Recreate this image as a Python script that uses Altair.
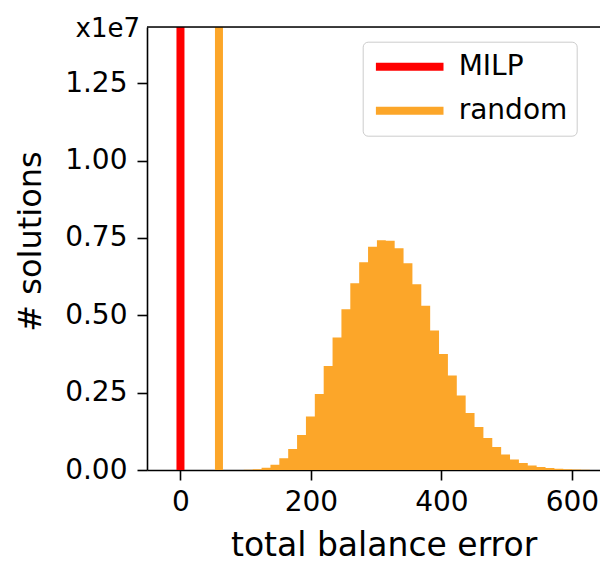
import altair as alt
import pandas as pd

# Histogram of total balance error over random solutions (bin edges and counts)
bin_edges = [83.5, 97.1, 110.7, 124.3, 137.9, 151.5, 165.1, 178.7, 192.3, 205.9,
             219.5, 233.1, 246.7, 260.3, 273.9, 287.5, 301.1, 314.7, 328.3, 341.9,
             355.5, 369.1, 382.7, 396.3, 409.9, 423.5, 437.1, 450.7, 464.3, 477.9,
             491.5, 505.1, 518.7, 532.3, 545.9, 559.5, 573.1, 586.7, 600.3, 613.9,
             627.5, 641.1]
counts = [3000, 6500, 26000, 74000, 171000, 378000, 678000, 1130000, 1728000, 2455000,
          3359000, 4280000, 5200000, 6040000, 6718000, 7219000, 7429000, 7413000, 7171000, 6686000,
          6008000, 5313000, 4506000, 3747000, 3052000, 2406000, 1841000, 1389000, 1034000, 743000,
          501000, 339000, 226000, 145000, 97000, 65000, 39000, 23000, 13000, 6500,
          3000]

# Reference solutions drawn as vertical lines
line_names = ["MILP", "random"]
line_positions = [0, 59]

x_ticks = [0, 200, 400, 600]
y_ticks = [0, 2.5e6, 5.0e6, 7.5e6, 1.0e7, 1.25e7]
x_domain = [-51.3, 643]
y_max = 1.432e7

RED = "#ff0000"
ORANGE = "#fca629"
FONT = "DejaVu Sans"

# Step outline of the histogram: each bin's left edge carries its count,
# the closing right edge drops back to zero.
hist = pd.DataFrame({
    "edge": bin_edges,
    "count": counts + [0],
})
lines = pd.DataFrame({"series": line_names, "position": line_positions})

x_scale = alt.Scale(domain=x_domain, nice=False, zero=False)
y_scale = alt.Scale(domain=[0, y_max], nice=False)

x_axis = alt.Axis(
    values=x_ticks, format="d", title="total balance error",
    labelFontSize=28, labelFont=FONT, labelColor="black", labelPadding=8,
    labelFlush=False, labelOverlap=False,
    tickSize=10, tickWidth=1.6, tickColor="black",
    domainWidth=1.6, domainColor="black", grid=False,
    titleFontSize=33, titleFont=FONT, titleFontWeight="normal", titleColor="black",
    titleX=236.6, titleY=85, titleAlign="center", titleBaseline="alphabetic",
)
y_axis = alt.Axis(
    values=y_ticks, labelExpr="format(datum.value / 1e7, '.2f')", title="# solutions",
    labelFontSize=28, labelFont=FONT, labelColor="black", labelPadding=10,
    labelFlush=False, labelOverlap=False,
    tickSize=10, tickWidth=1.6, tickColor="black",
    domainWidth=1.6, domainColor="black", grid=False,
    titleFontSize=32, titleFont=FONT, titleFontWeight="normal", titleColor="black",
    titleX=-117, titleY=214, titleAngle=270, titleAlign="center", titleBaseline="middle",
)

bars = alt.Chart(hist).mark_area(
    color=ORANGE, fillOpacity=1, interpolate="step-after"
).encode(
    x=alt.X("edge:Q", scale=x_scale, axis=x_axis),
    y=alt.Y("count:Q", scale=y_scale, axis=y_axis, stack=None),
    y2=alt.datum(0),
)

rules = alt.Chart(lines).mark_rule(strokeWidth=8).encode(
    x=alt.X("position:Q", scale=x_scale),
    color=alt.Color(
        "series:N",
        scale=alt.Scale(domain=line_names, range=[RED, ORANGE]),
        legend=alt.Legend(
            title=None, orient="none", legendX=215.7, legendY=14.7,
            symbolType="stroke", symbolSize=4570, symbolStrokeWidth=8,
            clipHeight=32, rowPadding=12, padding=9,
            labelFontSize=28, labelFont=FONT, labelColor="black", labelOffset=11,
            strokeColor="#cccccc", fillColor="white", cornerRadius=5,
        ),
    ),
)

# Top edge of the frame
top_edge = alt.Chart(pd.DataFrame({"y": [y_max]})).mark_rule(
    color="black", strokeWidth=1.6
).encode(y=alt.Y("y:Q", scale=y_scale))

# Scale factor label for the y axis
offset_label = alt.Chart(pd.DataFrame({"t": ["x1e7"]})).mark_text(
    align="right", baseline="alphabetic", fontSize=26, font=FONT, color="black"
).encode(x=alt.value(-7), y=alt.value(10), text="t:N")

chart = alt.layer(bars, rules, top_edge, offset_label).properties(
    width=453, height=443,
    autosize=alt.AutoSizeParams(type="none"),
    padding={"left": 147, "top": 27, "right": 0, "bottom": 95},
).configure_view(strokeWidth=0).configure(font=FONT)

chart.save("out.html", embed_options={"renderer": "svg", "actions": False})
